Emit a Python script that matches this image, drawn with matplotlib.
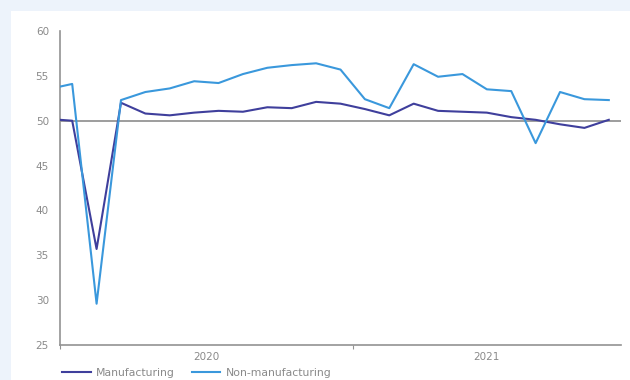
import matplotlib
matplotlib.use("Agg")
import matplotlib.pyplot as plt
from matplotlib.patches import Rectangle
import numpy as np

# Monthly PMI readings, Dec 2019 - Nov 2021
months = ["2019-12",
          "2020-01", "2020-02", "2020-03", "2020-04", "2020-05", "2020-06",
          "2020-07", "2020-08", "2020-09", "2020-10", "2020-11", "2020-12",
          "2021-01", "2021-02", "2021-03", "2021-04", "2021-05", "2021-06",
          "2021-07", "2021-08", "2021-09", "2021-10", "2021-11"]
manufacturing = [50.2,
                 50.0, 35.7, 52.0, 50.8, 50.6, 50.9,
                 51.1, 51.0, 51.5, 51.4, 52.1, 51.9,
                 51.3, 50.6, 51.9, 51.1, 51.0, 50.9,
                 50.4, 50.1, 49.6, 49.2, 50.1]
non_manufacturing = [53.5,
                     54.1, 29.6, 52.3, 53.2, 53.6, 54.4,
                     54.2, 55.2, 55.9, 56.2, 56.4, 55.7,
                     52.4, 51.4, 56.3, 54.9, 55.2, 53.5,
                     53.3, 47.5, 53.2, 52.4, 52.3]
years = ["2020", "2021"]
y_ticks = [25, 30, 35, 40, 45, 50, 55, 60]

W, H = 630, 380
fig = plt.figure(figsize=(W / 100, H / 100), dpi=100)
fig.patch.set_facecolor("#edf3fb")
fig.patches.append(Rectangle((11 / W, 0), 1 - 11 / W, 1 - 11 / H,
                             transform=fig.transFigure, facecolor="white",
                             edgecolor="none", zorder=-10))

ax = fig.add_axes([60 / W, 1 - 345 / H, (621 - 60) / W, (345 - 31) / H])
ax.set_facecolor("none")

# each month sits in the middle of its category slot; Dec 2019 falls left of the axis
x = np.arange(len(months)) - 0.5
dark = "#3f3f9c"
light = "#3a98dc"
ax.plot(x, manufacturing, color=dark, lw=1.5, label="Manufacturing", zorder=3)
ax.plot(x, non_manufacturing, color=light, lw=1.5, label="Non-manufacturing", zorder=3)
ax.axhline(50, color="#8c8c8c", lw=1.2, zorder=2)

ax.set_xlim(0, len(months) - 1)
ax.set_ylim(25, 60)

grey = "#8a8a8a"
for side in ["top", "right"]:
    ax.spines[side].set_visible(False)
for side in ["left", "bottom"]:
    ax.spines[side].set_color("#929292")
    ax.spines[side].set_linewidth(1.2)

ax.set_yticks(y_ticks)
ax.tick_params(axis="y", length=0, pad=8, labelsize=7.5, labelcolor=grey)

# year boundaries get a short tick, year names sit between them
ax.set_xticks([0, 12])
ax.set_xticklabels([])
ax.set_xticks([6, (12 + len(months) - 1) / 2], minor=True)
ax.set_xticklabels(years, minor=True)
ax.tick_params(axis="x", which="major", length=3, color="#929292", direction="out")
ax.tick_params(axis="x", which="minor", length=0, pad=5, labelsize=7.5, labelcolor=grey)

fig.legend(loc="lower left", bbox_to_anchor=(58 / W, -2 / H), ncol=2, frameon=False,
           fontsize=7.8, labelcolor=grey, handlelength=2.6, handletextpad=0.5,
           columnspacing=1.6, borderaxespad=0)

fig.savefig("out.png", dpi=100, facecolor=fig.get_facecolor())
